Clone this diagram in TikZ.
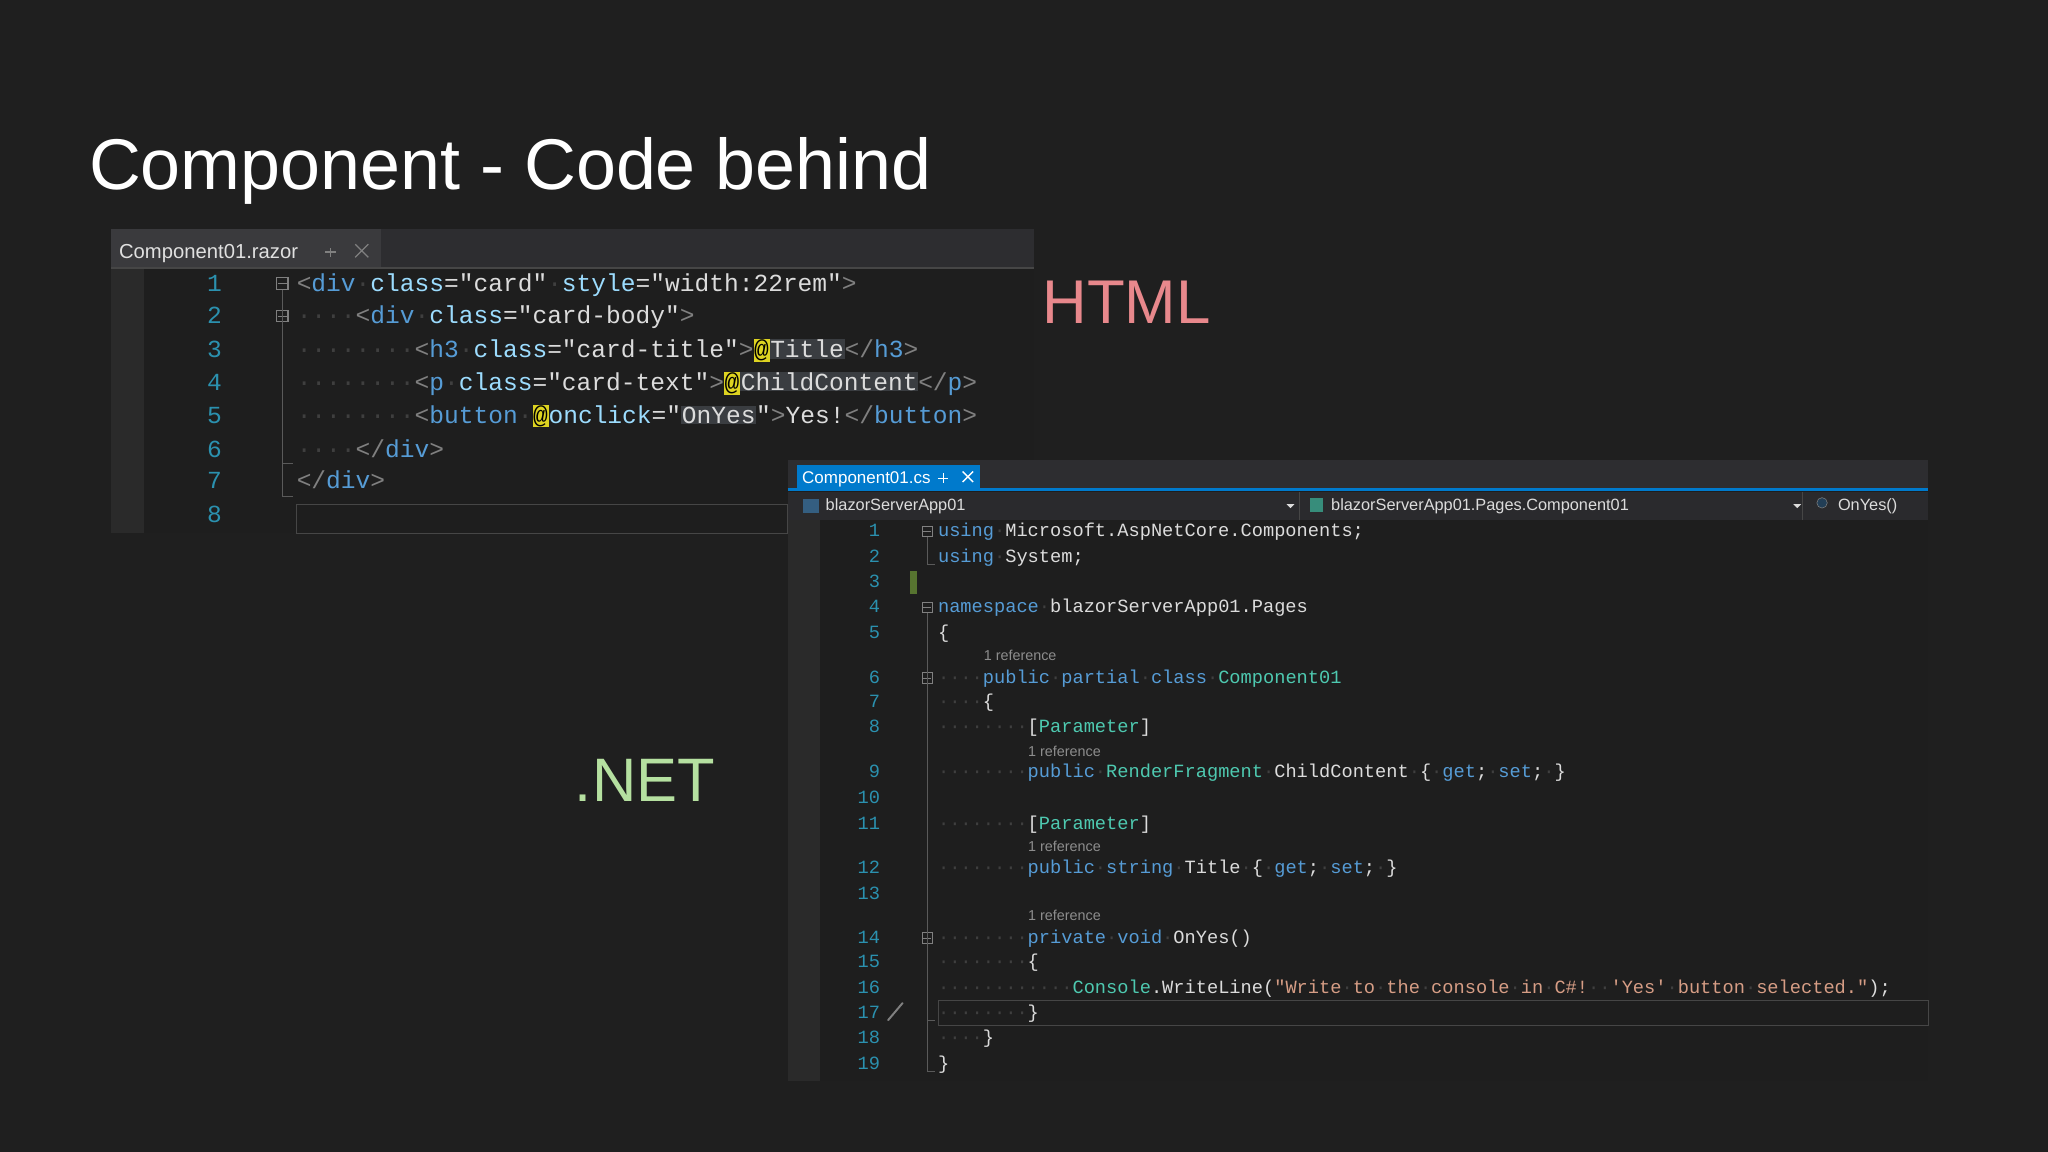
\documentclass[tikz,border=0pt]{standalone}
\usepackage{fontspec}
\setmainfont{Liberation Sans}
\newfontfamily\codef{Liberation Mono}
\newfontfamily\uif{Liberation Sans}
\definecolor{bg}{HTML}{1F1F1F}
\definecolor{ed}{HTML}{1E1E1E}
\definecolor{kw}{HTML}{569CD6}
\definecolor{ty}{HTML}{4EC9B0}
\definecolor{st}{HTML}{D69D85}
\definecolor{tx}{HTML}{DCDCDC}
\definecolor{at}{HTML}{9CDCFE}
\definecolor{ln}{HTML}{2B91AF}
\definecolor{dt}{HTML}{3F3F3F}
\definecolor{br}{HTML}{808080}
\definecolor{hl}{HTML}{3A3D41}
\definecolor{tabbar}{HTML}{2D2D30}
\definecolor{tabin}{HTML}{3A3A3D}
\definecolor{gut}{HTML}{2A2A2A}
\definecolor{navbar}{HTML}{2A2A2D}
\definecolor{boxc}{HTML}{464646}
\definecolor{pinkc}{RGB}{232,136,140}
\definecolor{greenc}{RGB}{181,224,160}
\definecolor{vsblue}{RGB}{0,122,204}
\definecolor{chg}{RGB}{87,116,48}
\newcommand{\xD}{\textcolor{dt}{·}}
\newcommand{\xK}[1]{\textcolor{kw}{#1}}
\newcommand{\xT}[1]{\textcolor{ty}{#1}}
\newcommand{\xQ}[1]{\textcolor{st}{#1}}
\newcommand{\xA}[1]{\textcolor{at}{#1}}
\newcommand{\xB}[1]{\textcolor{br}{#1}}
\newcommand{\xHL}[1]{{\setlength\fboxsep{0.5pt}\colorbox{hl}{#1}}}
\newcommand{\xYL}[1]{{\setlength\fboxsep{0.5pt}\colorbox{yellow!85!black}{\textcolor{black}{#1}}}}
\begin{document}
\begin{tikzpicture}[x=1pt,y=-1pt,
  lcode/.style={anchor=base west,inner sep=0,font=\codef\fontsize{18.8}{20}\selectfont,text=tx},
  rcode/.style={anchor=base west,inner sep=0,font=\codef\fontsize{14.3}{16}\selectfont,text=tx},
  lnum/.style={anchor=base east,inner sep=0,font=\codef\fontsize{18.8}{20}\selectfont,text=ln},
  rnum/.style={anchor=base east,inner sep=0,font=\codef\fontsize{14.3}{16}\selectfont,text=ln},
  lens/.style={anchor=base west,inner sep=0,font=\uif\fontsize{11}{12}\selectfont,text=br!90},
  ui/.style={anchor=base west,inner sep=0,font=\uif\fontsize{12.5}{14}\selectfont,text=tx},
  fold/.style={draw=br,line width=0.8pt,minimum size=9pt,inner sep=0,fill=ed},
  guide/.style={draw=br!70!black,line width=0.8pt}]
\fill[bg] (0,0) rectangle (1568,882);
\useasboundingbox (0,0) rectangle (1568,882);
% title
\node[anchor=base west,inner sep=0,text=white,font=\fontsize{55}{60}\selectfont] (title) at (68,145) {Component - Code behind};
\node[anchor=base west,inner sep=0,text=pinkc,font=\fontsize{47.3}{50}\selectfont] (html) at (798,248) {HTML};
\node[anchor=base west,inner sep=0,text=greenc,font=\fontsize{47}{50}\selectfont] (net) at (440,614) {.NET};
% ---------- left editor
\fill[ed] (85,175) rectangle (792,408);
\fill[tabbar] (85,175) rectangle (792,205);
\fill[tabin] (85,175) rectangle (292,205);
\fill[gut] (85,205) rectangle (110,408);
\draw[boxc,line width=1.2pt] (85,205) -- (792,205);
\node[ui,font=\uif\fontsize{15.5}{17}\selectfont,text=black!15!white!80] (ltab) at (91,198) {Component01.razor};
\draw[br,line width=1pt] (272,187)--(282,197) (282,187)--(272,197);
\draw[br,line width=1pt] (249,193)--(257,193) (253,190)--(253,197);
\draw[boxc] (227,386) rectangle (603,408);
\foreach \n/\y in {1/223,2/248,3/274,4/299,5/324,6/350,7/374,8/400}
  \node[lnum] (ln\n) at (170,\y) {\n};
\node[fold] (lf1) at (216,217) {}; \draw[br] (212.5,217)--(219.5,217);
\node[fold] (lf2) at (216,242) {}; \draw[br] (212.5,242)--(219.5,242);
\draw[guide] (lf1.south) -- (216,380) -- (224,380);
\draw[guide] (lf2.south) -- (216,355) -- (224,355);
\node[lcode] (lc1) at (227,223) {\xB{<}\xK{div}\xD\xA{class}="card"\xD\xA{style}="width:22rem"\xB{>}};
\node[lcode] (lc2) at (227,248) {\xD\xD\xD\xD\xB{<}\xK{div}\xD\xA{class}="card-body"\xB{>}};
\node[lcode] (lc3) at (227,274) {\xD\xD\xD\xD\xD\xD\xD\xD\xB{<}\xK{h3}\xD\xA{class}="card-title"\xB{>}\xYL{@}\xHL{Title}\xB{</}\xK{h3}\xB{>}};
\node[lcode] (lc4) at (227,299) {\xD\xD\xD\xD\xD\xD\xD\xD\xB{<}\xK{p}\xD\xA{class}="card-text"\xB{>}\xYL{@}\xHL{ChildContent}\xB{</}\xK{p}\xB{>}};
\node[lcode] (lc5) at (227,324) {\xD\xD\xD\xD\xD\xD\xD\xD\xB{<}\xK{button}\xD\xYL{@}\xA{onclick}="\xHL{OnYes}"\xB{>}Yes!\xB{</}\xK{button}\xB{>}};
\node[lcode] (lc6) at (227,350) {\xD\xD\xD\xD\xB{</}\xK{div}\xB{>}};
\node[lcode] (lc7) at (227,374) {\xB{</}\xK{div}\xB{>}};
% ---------- right editor
\fill[ed] (603,352) rectangle (1476,828);
\fill[tabbar] (603,352) rectangle (1476,374);
\fill[gut] (603,398) rectangle (628,828);
\fill[vsblue] (610,356) rectangle (750,375);
\draw[vsblue,line width=2pt] (603,375) -- (1476,375);
\fill[navbar] (603,377) rectangle (1476,398);
\node[ui,text=white,font=\uif\fontsize{13}{14}\selectfont] (rtab) at (614,370) {Component01.cs};
\draw[white,line width=1pt] (737,361)--(745,369) (745,361)--(737,369);
\draw[white,line width=0.8pt] (718,366)--(726,366) (722,362)--(722,370);
\node[ui] (nav1) at (632,391) {blazorServerApp01};
\node[ui] (nav2) at (1019,391) {blazorServerApp01.Pages.Component01};
\node[ui] (nav3) at (1407,391) {OnYes()};
\fill[kw!60!black] (615,382) rectangle (627,393);
\fill[ty!70!black] (1003,381) rectangle (1013,392);
\draw[br,fill=kw!40!black] (1395,385) circle (4);
\fill[tx] (985,386)--(991,386)--(988,389)--cycle;
\fill[tx] (1373,386)--(1379,386)--(1376,389)--cycle;
\draw[boxc] (1380,377)--(1380,398) (995,377)--(995,398);
\draw[boxc] (718,766) rectangle (1476,785);
\fill[chg] (697,437) rectangle (702,455);
\foreach \n/\y in {1/411,2/431,3/450,4/469,5/489,6/523,7/542,8/561,9/595,10/615,11/635,12/669,13/689,14/722,15/741,16/761,17/780,18/799,19/819}
  \node[rnum] (rn\n) at (674,\y) {\n};
\foreach \n/\y in {1/407,4/465,6/519,14/718}{
  \node[fold,minimum size=8pt] (rf\n) at (710,\y) {};
  \draw[br] (707,\y)--(713,\y);}
\draw[guide] (rf1.south) -- (710,432) -- (716,432);
\draw[guide] (rf4.south) -- (710,820) -- (716,820);
\draw[guide] (rf6.south) -- (710,800);
\draw[guide] (rf14.south) -- (710,781) -- (716,781);
\draw[br,line width=1.5pt,line cap=round] (691,768) -- (680,781);
\node[rcode] (rc1) at (718,411) {\xK{using}\xD Microsoft.AspNetCore.Components;};
\node[rcode] (rc2) at (718,431) {\xK{using}\xD System;};
\node[rcode] (rc4) at (718,469) {\xK{namespace}\xD blazorServerApp01.Pages};
\node[rcode] (rc5) at (718,489) {\{};
\node[lens] (lens1) at (753,506) {1 reference};
\node[rcode] (rc6) at (718,523) {\xD\xD\xD\xD\xK{public}\xD\xK{partial}\xD\xK{class}\xD\xT{Component01}};
\node[rcode] (rc7) at (718,542) {\xD\xD\xD\xD\{};
\node[rcode] (rc8) at (718,561) {\xD\xD\xD\xD\xD\xD\xD\xD[\xT{Parameter}]};
\node[lens] (lens2) at (787,579) {1 reference};
\node[rcode] (rc9) at (718,595) {\xD\xD\xD\xD\xD\xD\xD\xD\xK{public}\xD\xT{RenderFragment}\xD ChildContent\xD\{\xD\xK{get};\xD\xK{set};\xD\}};
\node[rcode] (rc11) at (718,635) {\xD\xD\xD\xD\xD\xD\xD\xD[\xT{Parameter}]};
\node[lens] (lens3) at (787,652) {1 reference};
\node[rcode] (rc12) at (718,669) {\xD\xD\xD\xD\xD\xD\xD\xD\xK{public}\xD\xK{string}\xD Title\xD\{\xD\xK{get};\xD\xK{set};\xD\}};
\node[lens] (lens4) at (787,705) {1 reference};
\node[rcode] (rc14) at (718,722) {\xD\xD\xD\xD\xD\xD\xD\xD\xK{private}\xD\xK{void}\xD OnYes()};
\node[rcode] (rc15) at (718,741) {\xD\xD\xD\xD\xD\xD\xD\xD\{};
\node[rcode] (rc16) at (718,761) {\xD\xD\xD\xD\xD\xD\xD\xD\xD\xD\xD\xD\xT{Console}.WriteLine(\xQ{"Write\xD to\xD the\xD console\xD in\xD C\#!\xD\xD'Yes'\xD button\xD selected."});};
\node[rcode] (rc17) at (718,780) {\xD\xD\xD\xD\xD\xD\xD\xD\}};
\node[rcode] (rc18) at (718,799) {\xD\xD\xD\xD\}};
\node[rcode] (rc19) at (718,819) {\}};
\end{tikzpicture}
\end{document}
